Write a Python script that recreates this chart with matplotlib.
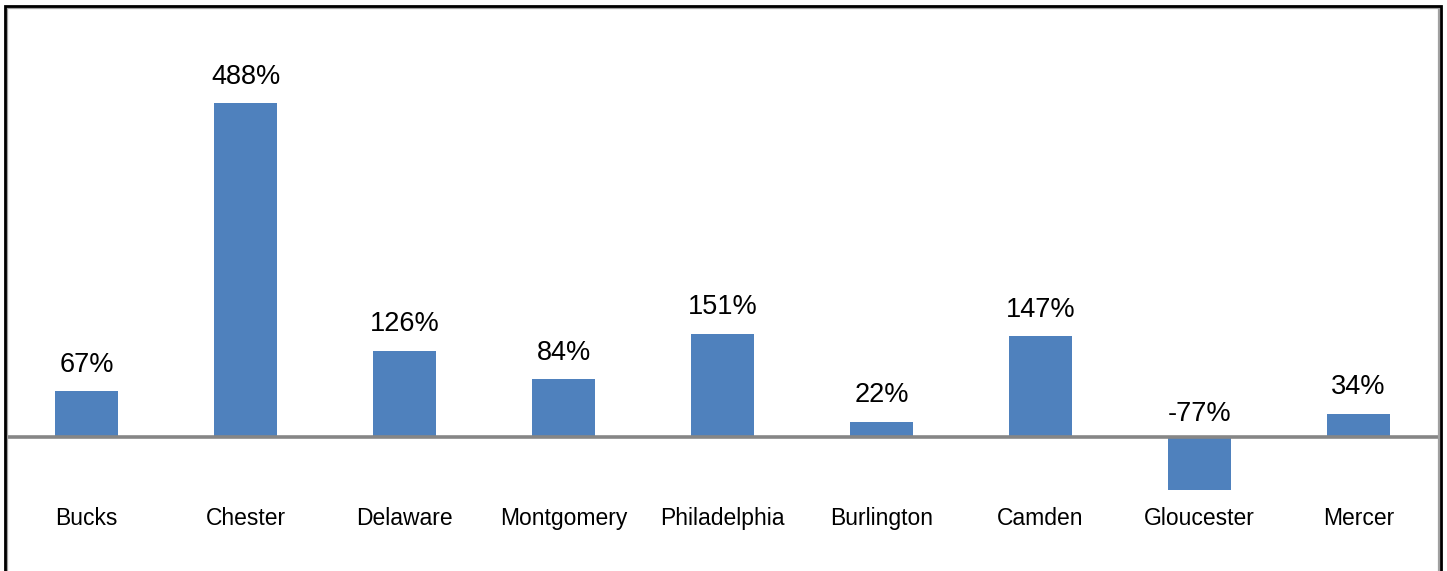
import matplotlib
matplotlib.use("Agg")
import matplotlib.pyplot as plt
from matplotlib.patches import Rectangle

counties = ["Bucks", "Chester", "Delaware", "Montgomery", "Philadelphia",
            "Burlington", "Camden", "Gloucester", "Mercer"]
change_pct = [67, 488, 126, 84, 151, 22, 147, -77, 34]

BAR_COLOR = "#4F81BD"
W, H = 1447, 571

plt.rcParams["font.family"] = ["Liberation Sans", "DejaVu Sans"]

fig = plt.figure(figsize=(W / 100, H / 100), dpi=100)
fig.patch.set_facecolor("white")

# plot area spans between the frame lines
ax = fig.add_axes([7 / W, 0, (1438 - 7) / W, (H - 8) / H])
x = range(len(counties))
ax.bar(x, change_pct, width=0.4, color=BAR_COLOR, zorder=2)
ax.axhline(0, color="#868686", linewidth=2.6, zorder=3)

ax.set_xlim(-0.5, len(counties) - 0.5)
ax.set_ylim(-196, 627)
ax.axis("off")

# value labels
for i, v in enumerate(change_pct):
    off = 19 if v >= 0 else 16.5
    ax.annotate(f"{v}%", (i, max(v, 0)), xytext=(0, off), textcoords="offset points",
                ha="center", va="center", fontsize=19.5, color="black")

# category labels at a fixed height below the axis
for i, name in enumerate(counties):
    ax.text(i, -119.5, name, ha="center", va="center", fontsize=16.5, color="black")

# chart frame: dark outer line with a gray inner shadow
fig.patches.append(Rectangle((7 / W, -0.1), (1438.5 - 7) / W, (H - 8) / H + 0.1,
                             transform=fig.transFigure, fill=False,
                             edgecolor="#A0A0A0", linewidth=1.6, zorder=5))
fig.patches.append(Rectangle((5 / W, -0.1), (1440.5 - 5) / W, (H - 6) / H + 0.1,
                             transform=fig.transFigure, fill=False,
                             edgecolor="black", linewidth=2.0, zorder=6))

fig.savefig("out.png", dpi=100, facecolor="white")
